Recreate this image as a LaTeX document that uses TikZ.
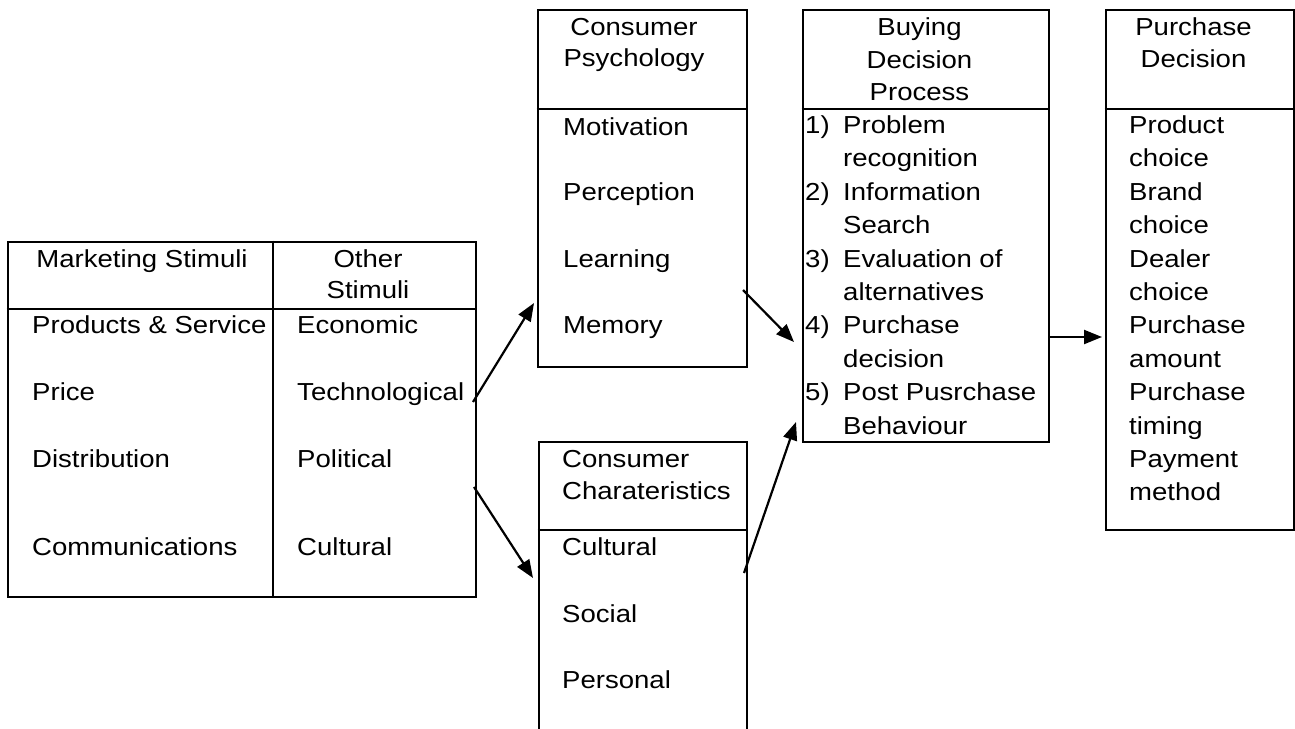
\documentclass[tikz,border=0pt]{standalone}
\usepackage{fontspec}
\setmainfont{Liberation Sans}[FakeStretch=1.12]
\usetikzlibrary{arrows.meta}

\begin{document}
\begin{tikzpicture}[
    x=1pt, y=-1pt,
    box/.style={draw, line width=2.6pt, inner sep=0pt},
    rule/.style={line width=2.6pt},
    head/.style={anchor=base, inner sep=0pt, font=\fontsize{24.6}{33}\selectfont},
    item/.style={anchor=base west, inner sep=0pt, font=\fontsize{24.6}{33}\selectfont},
    flow/.style={line width=2.2pt, -{Triangle[length=18pt, width=14pt]}},
]
    \clip (0,0) rectangle (1295,728);
    \fill[white] (0,0) rectangle (1295,728);

    % Boxes
    \node[box, minimum width=468pt, minimum height=355pt] (stim) at (242,419.5) {};
    \node[box, minimum width=209pt, minimum height=357pt] (psych) at (642.5,188.5) {};
    \node[box, minimum width=208pt, minimum height=310pt] (chars) at (643,597) {};
    \node[box, minimum width=246pt, minimum height=432pt] (buying) at (926,226) {};
    \node[box, minimum width=188pt, minimum height=520pt] (purch) at (1200,270) {};

    % Header rules and column divider
    \draw[rule] (stim.west |- 0,309) -- (stim.east |- 0,309);
    \draw[rule] (stim.north -| 273,0) -- (stim.south -| 273,0);
    \draw[rule] (psych.west |- 0,109) -- (psych.east |- 0,109);
    \draw[rule] (chars.west |- 0,530) -- (chars.east |- 0,530);
    \draw[rule] (buying.west |- 0,109) -- (buying.east |- 0,109);
    \draw[rule] (purch.west |- 0,109) -- (purch.east |- 0,109);

    % Stimuli
    \node[head] (mkt) at (142,267) {Marketing Stimuli};
    \node[head] (oth1) at (368,267) {Other};
    \node[head] (oth2) at (368,298) {Stimuli};
    \foreach \txt/\yy [count=\i] in {Products \& Service/333, Price/400, Distribution/467, Communications/555}
        \node[item] (mk\i) at (32,\yy) {\txt};
    \foreach \txt/\yy [count=\i] in {Economic/333, Technological/400, Political/467, Cultural/555}
        \node[item] (ot\i) at (297,\yy) {\txt};

    % Consumer psychology
    \node[head] (ps1) at (634,35) {Consumer};
    \node[head] (ps2) at (634,66) {Psychology};
    \foreach \txt/\yy [count=\i] in {Motivation/135, Perception/200, Learning/267, Memory/333}
        \node[item] (pi\i) at (563,\yy) {\txt};

    % Consumer characteristics
    \node[item] (ch1) at (562,467) {Consumer};
    \node[item] (ch2) at (562,499) {Charateristics};
    \foreach \txt/\yy [count=\i] in {Cultural/555, Social/622, Personal/688}
        \node[item] (ci\i) at (562,\yy) {\txt};

    % Buying decision process
    \node[head] (bd1) at (919.5,35) {Buying};
    \node[head] (bd2) at (919.5,68) {Decision};
    \node[head] (bd3) at (919.5,100) {Process};
    \foreach \txt [count=\i] in {Problem, recognition, Information, Search, Evaluation of,
        alternatives, Purchase, decision, Post Pusrchase, Behaviour}
        \node[item] (bi\i) at (843,{100+33.4*\i}) {\txt};
    \foreach \n in {1,...,5}
        \node[item] (bn\n) at (805,{100+33.4*(2*\n-1)}) {\n)};

    % Purchase decision
    \node[head] (pd1) at (1193.5,35) {Purchase};
    \node[head] (pd2) at (1193.5,67) {Decision};
    \foreach \txt [count=\i] in {Product, choice, Brand, choice, Dealer, choice,
        Purchase, amount, Purchase, timing, Payment, method}
        \node[item] (pc\i) at (1129,{100+33.4*\i}) {\txt};

    % Connector ends
    \coordinate (techOut) at (473,402);
    \coordinate (psychIn) at (534,303);
    \coordinate (polOut) at (474,487);
    \coordinate (charsIn) at (533,578);
    \coordinate (psychOut) at (743,290);
    \coordinate (buyIn1) at (794,342);
    \coordinate (charsOut) at (744,573);
    \coordinate (buyIn2) at (796,422);
    \coordinate (buyOut) at (1049,337);
    \coordinate (purchIn) at (1102,337);

    \draw[flow] (techOut) -- (psychIn);
    \draw[flow] (polOut) -- (charsIn);
    \draw[flow] (psychOut) -- (buyIn1);
    \draw[flow] (charsOut) -- (buyIn2);
    \draw[flow] (buyOut) -- (purchIn);
\end{tikzpicture}
\end{document}
